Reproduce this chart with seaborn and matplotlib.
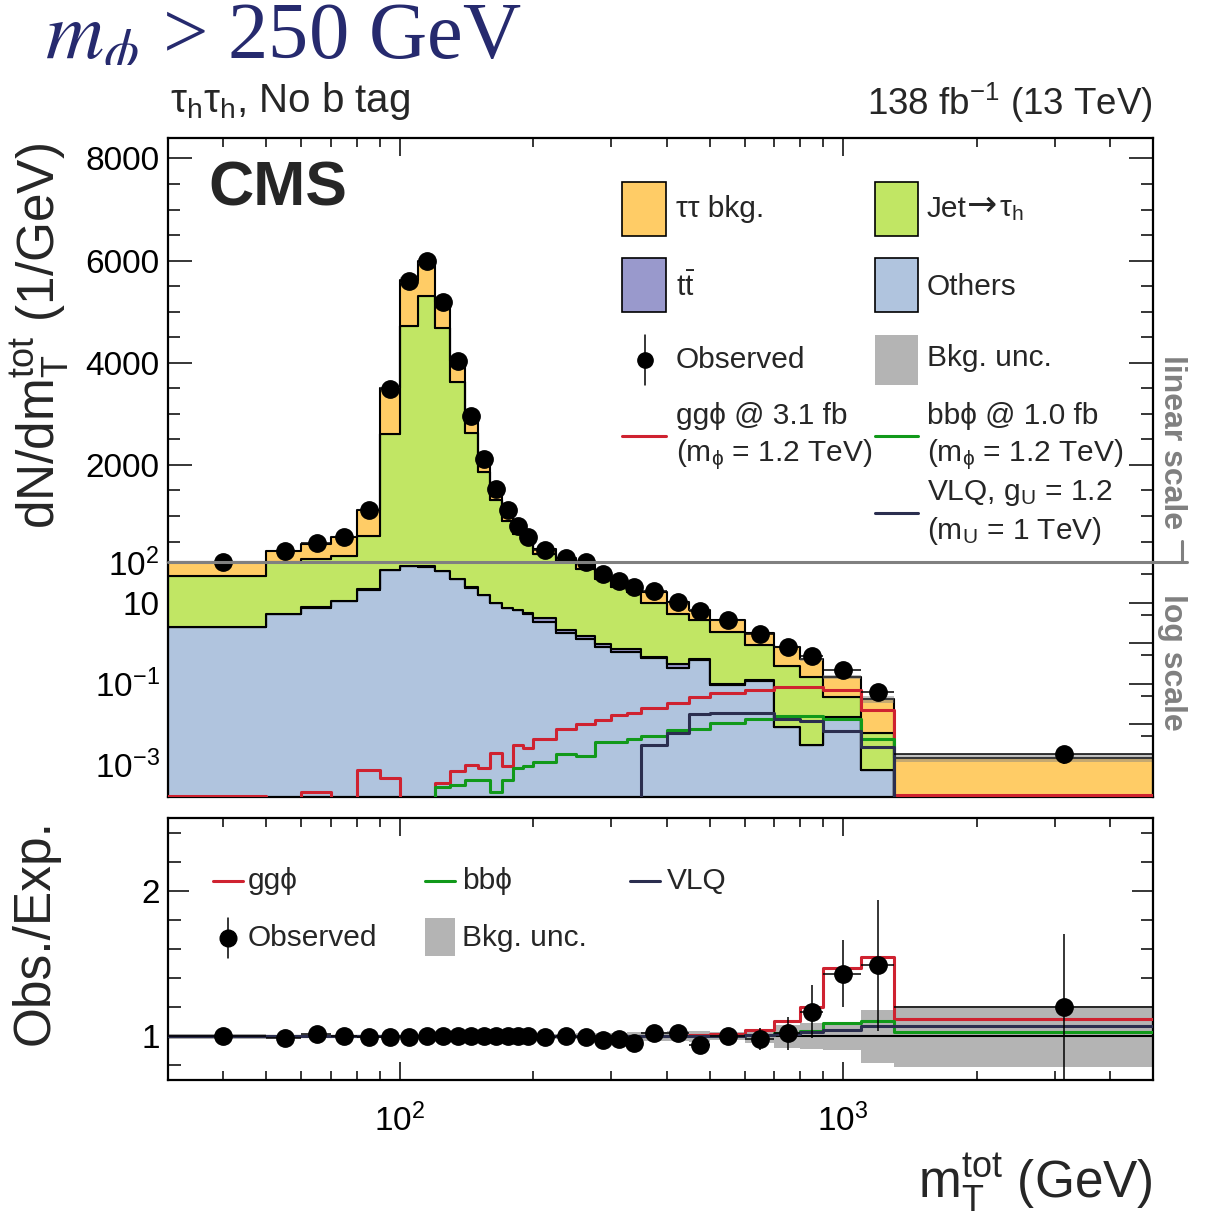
import numpy as np
import pandas as pd
import matplotlib
matplotlib.use("Agg")
import matplotlib.pyplot as plt
import seaborn as sns
from matplotlib.lines import Line2D
from matplotlib.patches import Rectangle
from matplotlib.ticker import FixedLocator, FixedFormatter, MultipleLocator, NullFormatter

sns.set_theme(style="ticks")
plt.rcParams.update({
    "font.family": ["Liberation Sans", "DejaVu Sans"],
    "mathtext.fontset": "custom",
    "mathtext.rm": "Liberation Sans",
    "mathtext.it": "Liberation Sans:italic",
    "mathtext.bf": "Liberation Sans:bold",
    "axes.linewidth": 1.6,
    "axes.edgecolor": "black",
    "xtick.color": "black",
    "ytick.color": "black",
    "xtick.direction": "in",
    "ytick.direction": "in",
})

# ---------------------------------------------------------------- data
# m_T^tot bin edges (GeV)
bin_edges = [30, 50, 60, 70, 80, 90, 100, 110, 120, 130, 140, 150, 160, 170, 180, 190,
             200, 225, 250, 275, 300, 325, 350, 400, 450, 500, 600, 700, 800, 900,
             1100, 1300, 5000]

# background processes, dN/dm_T^tot (1/GeV)
others = [2.47, 5.1, 7.45, 10.7, 20.8, 61.8, 79.4, 76.4, 59.8, 37.2, 23.2, 15.1, 9.7, 7.25,
          6.37, 5.3, 3.40, 1.74, 1.25, 0.79, 0.60, 0.60, 0.44, 0.25, 0.38, 0.09, 0.114,
          0.0086, 0.0030, 0.015, 0.00076, 0.0]
ttbar = [0.05, 0.1, 0.15, 0.2, 0.4, 1.2, 1.6, 1.6, 1.2, 0.8, 0.5, 0.3, 0.2, 0.15, 0.13, 0.1,
         0.70, 0.36, 0.25, 0.16, 0.12, 0.10, 0.02, 0.05, 0.02, 0.01, 0.006,
         0.0, 0.0, 0.0, 0.0, 0.0]
jet_fakes = [43.4, 99.8, 142.4, 205.1, 579.8, 2538, 4644, 5223, 4612, 3576, 2610, 1854,
             1297, 895, 643.5, 464.6, 250.9, 117.9, 65.5, 36.45, 23.88, 17.8, 9.04, 4.9,
             3.3, 1.73, 0.77, 0.2714, 0.145, 0.032, 0.00524, 0.0001]
tautau = [52.1, 209, 307, 379, 523, 896, 896, 699, 510, 412, 327, 242, 216, 209, 150, 110,
          91, 58, 31, 15.2, 9.4, 7.0, 9.0, 4.9, 2.8, 1.87, 0.84, 0.52, 0.252, 0.101,
          0.035, 0.0014]

# relative background uncertainty
bkg_unc = [0.015, 0.012, 0.012, 0.012, 0.01, 0.01, 0.01, 0.01, 0.01, 0.01, 0.01, 0.01,
           0.012, 0.012, 0.012, 0.015, 0.015, 0.018, 0.02, 0.025, 0.025, 0.03, 0.03,
           0.035, 0.04, 0.028, 0.043, 0.077, 0.09, 0.096, 0.18, 0.21]

# observed / expected and its uncertainty
obs_ratio = [1.00, 0.99, 1.015, 1.0, 0.995, 0.995, 0.995, 1.0, 1.0, 1.0, 1.0, 1.0, 1.0,
             1.0, 1.005, 1.0, 0.995, 1.0, 0.995, 0.975, 0.985, 0.955, 1.02, 1.025, 0.94,
             1.0, 0.98, 1.02, 1.17, 1.43, 1.49, 1.20]
obs_ratio_err = [0.023, 0.018, 0.015, 0.013, 0.01, 0.005, 0.005, 0.005, 0.005, 0.005,
                 0.006, 0.007, 0.008, 0.01, 0.011, 0.013, 0.011, 0.015, 0.02, 0.028,
                 0.034, 0.04, 0.033, 0.045, 0.055, 0.052, 0.075, 0.115, 0.18, 0.23,
                 0.45, 0.5]

# signal hypotheses, dN/dm_T^tot (1/GeV)
sig_ggphi = [1.7e-4, 0, 2.1e-4, 0, 7.6e-4, 4.6e-4, 0, 0, 3.5e-4, 6.9e-4, 9.6e-4, 8.2e-4,
             2.0e-3, 9.1e-4, 3.1e-3, 2.6e-3, 4.4e-3, 7.8e-3, 0.0100, 0.0126, 0.0169,
             0.0191, 0.0252, 0.0342, 0.0468, 0.0588, 0.0715, 0.0835, 0.081, 0.0696,
             0.0223, 1.8e-4]
sig_bbphi = [0, 0, 0, 0, 0, 0, 0, 0, 2.8e-4, 3.1e-4, 4.2e-4, 4.3e-4, 2.1e-4, 4.2e-4,
             8.4e-4, 9.3e-4, 1.2e-3, 1.8e-3, 1.65e-3, 3.6e-3, 3.6e-3, 4.2e-3, 5.0e-3,
             7.0e-3, 7.7e-3, 1.06e-2, 1.31e-2, 1.59e-2, 1.59e-2, 1.31e-2, 4.3e-3, 4.5e-5]
sig_vlq = [0, 0, 0, 0, 0, 0, 0, 0, 0, 0, 0, 0, 0, 0, 0, 0, 0, 0, 0, 0, 0, 0,
           3.0e-3, 6.1e-3, 0.0174, 0.0193, 0.0192, 0.0131, 0.0121, 0.0068, 0.0028, 1.05e-4]

# ---------------------------------------------------------------- styling
C_TT = "#ffcc66"
C_JET = "#c1e664"
C_TTBAR = "#9999cc"
C_OTHERS = "#b0c4de"
C_UNC = "#b4b4b4"
C_GG = "#cf2230"
C_BB = "#11991a"
C_VLQ = "#2b2e4f"
C_HEAD = "#262a6e"

W, H = 1228, 1224


def fx(p):
    return p / W


def fy(p):
    return 1 - p / H


edges = np.array(bin_edges, dtype=float)
lo, hi = edges[:-1], edges[1:]
centers = 0.5 * (lo + hi)
log_bins = list(np.log10(edges))
total = np.array(others) + np.array(ttbar) + np.array(jet_fakes) + np.array(tautau)
observed = total * np.array(obs_ratio)
observed_err = total * np.array(obs_ratio_err)
unc = np.array(bkg_unc)
xerr = [centers - lo, hi - centers]

procs = ["tautau", "jet", "ttbar", "others"]          # top of stack first
palette = {"tautau": C_TT, "jet": C_JET, "ttbar": C_TTBAR, "others": C_OTHERS}
series = {"tautau": tautau, "jet": jet_fakes, "ttbar": ttbar, "others": others}
stack_df = pd.DataFrame({
    "mass": np.tile(centers, len(procs)),
    "yield": np.concatenate([np.asarray(series[p], float) for p in procs]),
    "process": np.repeat(procs, len(centers)),
})

fig = plt.figure(figsize=(W / 100, H / 100), dpi=100)
L, R = 168, 1153
ax_lin = fig.add_axes([fx(L), fy(562), (R - L) / W, (562 - 138) / H])
ax_log = fig.add_axes([fx(L), fy(797), (R - L) / W, (797 - 562) / H])
ax_rat = fig.add_axes([fx(L), fy(1080), (R - L) / W, (1080 - 818) / H])
for ax in (ax_lin, ax_log, ax_rat):
    ax.set_xscale("log")
ax_log.set_yscale("log")


def draw_main(ax, keep):
    sns.histplot(data=stack_df, x="mass", weights="yield", hue="process", hue_order=procs,
                 multiple="stack", bins=log_bins, element="step", fill=True,
                 palette=palette, alpha=1, edgecolor="black", linewidth=1.5,
                 legend=False, ax=ax, zorder=1)
    ax.stairs(total * (1 + unc), edges, baseline=total * (1 - unc), fill=True,
              color="#7f7f7f", alpha=0.45, linewidth=0, zorder=2)
    for vals, col in ((sig_ggphi, C_GG), (sig_bbphi, C_BB), (sig_vlq, C_VLQ)):
        sns.histplot(x=centers, weights=np.asarray(vals, float), bins=log_bins,
                     element="step", fill=False, color=col, linewidth=2.2, ax=ax, zorder=3)
    # only the points that fall inside this panel's range
    y = np.where(keep, observed, np.nan)
    ax.errorbar(centers, y, yerr=observed_err, xerr=xerr, fmt="o", color="black",
                ms=12.5, elinewidth=1.1, capsize=0, zorder=5)


draw_main(ax_lin, observed > 60)
draw_main(ax_log, observed < 150)

# ratio panel
ax_rat.stairs(1 + unc, edges, baseline=1 - unc, fill=True, color=C_UNC, linewidth=0, zorder=1)
ax_rat.axhline(1, color="black", lw=1.5, zorder=2)
for vals, col in ((sig_ggphi, C_GG), (sig_bbphi, C_BB), (sig_vlq, C_VLQ)):
    sns.histplot(x=centers, weights=(total + np.array(vals)) / total, bins=log_bins,
                 element="step", fill=False, color=col, linewidth=2.2, ax=ax_rat, zorder=3)
ax_rat.errorbar(centers, obs_ratio, yerr=obs_ratio_err, xerr=xerr, fmt="o", color="black",
                ms=12.5, elinewidth=1.1, capsize=0, zorder=5)

# ---------------------------------------------------------------- axes
x_minor = [40, 50, 60, 70, 80, 90, 200, 300, 400, 500, 600, 700, 800, 900, 2000, 3000, 4000]
for ax in (ax_lin, ax_log, ax_rat):
    ax.set_xlim(30, 5000)
    ax.xaxis.set_major_locator(FixedLocator([100, 1000]))
    ax.xaxis.set_minor_locator(FixedLocator(x_minor))
    ax.set_xlabel("")
    ax.set_ylabel("")
    ax.tick_params(axis="both", which="both", direction="in", top=True, right=True,
                   width=1.1, labelsize=24, colors="black")
    ax.tick_params(axis="x", which="major", length=13)
    ax.tick_params(axis="x", which="minor", length=6.5)
    ax.tick_params(axis="y", which="major", length=17, pad=6)
    ax.tick_params(axis="y", which="minor", length=8.6)
    for s in ax.spines.values():
        s.set_linewidth(1.6)
        s.set_color("black")

ax_lin.set_ylim(100, 8400)
ax_lin.yaxis.set_major_locator(MultipleLocator(2000))
ax_lin.yaxis.set_minor_locator(MultipleLocator(500))
ax_lin.tick_params(axis="x", which="both", bottom=False, labelbottom=False)
ax_lin.spines["bottom"].set_visible(False)

ax_log.set_ylim(1.6e-4, 100)
ax_log.yaxis.set_major_locator(FixedLocator([1e-3, 1e-2, 1e-1, 1, 10, 100]))
ax_log.yaxis.set_major_formatter(FixedFormatter(
    [r"$10^{-3}$", "", r"$10^{-1}$", "", "10", r"$10^{2}$"]))
ax_log.yaxis.set_minor_locator(FixedLocator([5e-4, 5e-3, 5e-2, 0.5, 5, 50]))
ax_log.yaxis.set_minor_formatter(NullFormatter())
ax_log.tick_params(axis="x", which="both", top=False, labelbottom=False)
ax_log.spines["top"].set_visible(False)

ax_rat.set_ylim(0.7, 2.5)
ax_rat.yaxis.set_major_locator(FixedLocator([1, 2]))
ax_rat.yaxis.set_major_formatter(FixedFormatter(["1", "2"]))
ax_rat.yaxis.set_minor_locator(MultipleLocator(0.2))
ax_rat.tick_params(axis="y", which="major", length=15)
ax_rat.tick_params(axis="y", which="minor", length=9)
ax_rat.xaxis.set_major_formatter(FixedFormatter([r"$10^{2}$", r"$10^{3}$"]))
ax_rat.xaxis.set_minor_formatter(NullFormatter())
ax_rat.tick_params(axis="x", which="major", pad=17)

# split between linear and logarithmic ranges
fig.add_artist(Line2D([fx(L), fx(1187)], [fy(562), fy(562)], transform=fig.transFigure,
                      color="#808080", lw=2.2, zorder=10))
fig.add_artist(Line2D([fx(1182), fx(1182)], [fy(541), fy(562)], transform=fig.transFigure,
                      color="#808080", lw=2.2, zorder=10))
fig.text(fx(1172), fy(442), "linear scale", rotation=270, color="#808080", weight="bold",
         size=23, ha="center", va="center")
fig.text(fx(1172), fy(662), "log scale", rotation=270, color="#808080", weight="bold",
         size=23, ha="center", va="center")

# ---------------------------------------------------------------- labels
fig.text(fx(40), fy(336), r"dN/dm$_{\rm T}^{\rm tot}$ (1/GeV)", rotation=90, size=37,
         ha="center", va="center")
fig.text(fx(35), fy(932), "Obs./Exp.", rotation=90, size=37, ha="center", va="center")
fig.text(fx(1153), fy(1197), r"m$_{\rm T}^{\rm tot}$ (GeV)", size=37, ha="right",
         va="baseline")
fig.text(fx(170), fy(112), r"τ$_{\rm h}$τ$_{\rm h}$, No b tag", size=29, va="baseline")
fig.text(fx(1153), fy(115), r"138 fb$^{-1}$ (13 TeV)", size=26.5, ha="right", va="baseline")
fig.text(fx(208), fy(205), "CMS", weight="bold", size=45, va="baseline")

ax_head = fig.add_axes([0, fy(65), 1, 65 / H])
ax_head.set_axis_off()
head = ax_head.text(45 / W, (65 - 58) / 65, r"$m_{\phi}$ > 250 GeV", transform=ax_head.transAxes,
                    fontsize=58, family="Liberation Serif", math_fontfamily="stix",
                    color=C_HEAD, va="baseline")
head.set_clip_box(ax_head.bbox)
head.set_clip_on(True)


# ---------------------------------------------------------------- legends
def legend_box(x0, y0, x1, y1, face, edge="black", lw=1.2):
    fig.add_artist(Rectangle((fx(x0), fy(y1)), (x1 - x0) / W, (y1 - y0) / H,
                             transform=fig.transFigure, facecolor=face,
                             edgecolor=edge, linewidth=lw))


def legend_line(x0, x1, y, color, lw=2.2):
    fig.add_artist(Line2D([fx(x0), fx(x1)], [fy(y), fy(y)], transform=fig.transFigure,
                          color=color, lw=lw))


def legend_obs(x, y, half, ms=11):
    fig.add_artist(Line2D([fx(x), fx(x)], [fy(y - half), fy(y + half)],
                          transform=fig.transFigure, color="black", lw=1.1))
    fig.add_artist(Line2D([fx(x)], [fy(y)], transform=fig.transFigure, marker="o", ms=ms,
                          color="black", lw=0))


def label(x, y, s, size=21.5, **kw):
    fig.text(fx(x), fy(y), s, size=size, ha="left", va="center", **kw)


legend_box(622, 182, 666, 236, C_TT)
label(676, 209, "ττ bkg.")
legend_box(875, 182, 918, 236, C_JET)
label(927, 209, "Jet")
label(967, 206, "→", size=26, family="DejaVu Sans")
label(999, 209, r"τ$_{\rm h}$")
legend_box(622, 258, 666, 312, C_TTBAR)
label(676, 287, r"t$\bar{\rm t}$")
legend_box(875, 258, 918, 312, C_OTHERS)
label(927, 287, "Others")
legend_obs(645, 360, 25)
label(676, 360, "Observed")
legend_box(875, 335, 918, 385, C_UNC, edge="none")
label(927, 358, "Bkg. unc.")
legend_line(622, 666, 436, C_GG)
label(676, 416, "ggϕ @ 3.1 fb")
label(676, 455, r"(m$_{\rm ϕ}$ = 1.2 TeV)")
legend_line(875, 918, 436, C_BB)
label(927, 416, "bbϕ @ 1.0 fb")
label(927, 455, r"(m$_{\rm ϕ}$ = 1.2 TeV)")
legend_line(875, 918, 513, C_VLQ)
label(927, 493, r"VLQ, g$_{\rm U}$ = 1.2")
label(927, 531, r"(m$_{\rm U}$ = 1 TeV)")

legend_line(213, 243, 881, C_GG)
label(248, 881, "ggϕ")
legend_line(425, 455, 881, C_BB)
label(462, 881, "bbϕ")
legend_line(630, 660, 881, C_VLQ)
label(667, 881, "VLQ")
legend_obs(228, 938, 20, ms=12)
label(248, 938, "Observed")
legend_box(425, 918, 455, 956, C_UNC, edge="none")
label(462, 938, "Bkg. unc.")

fig.savefig("out.png", dpi=100)
